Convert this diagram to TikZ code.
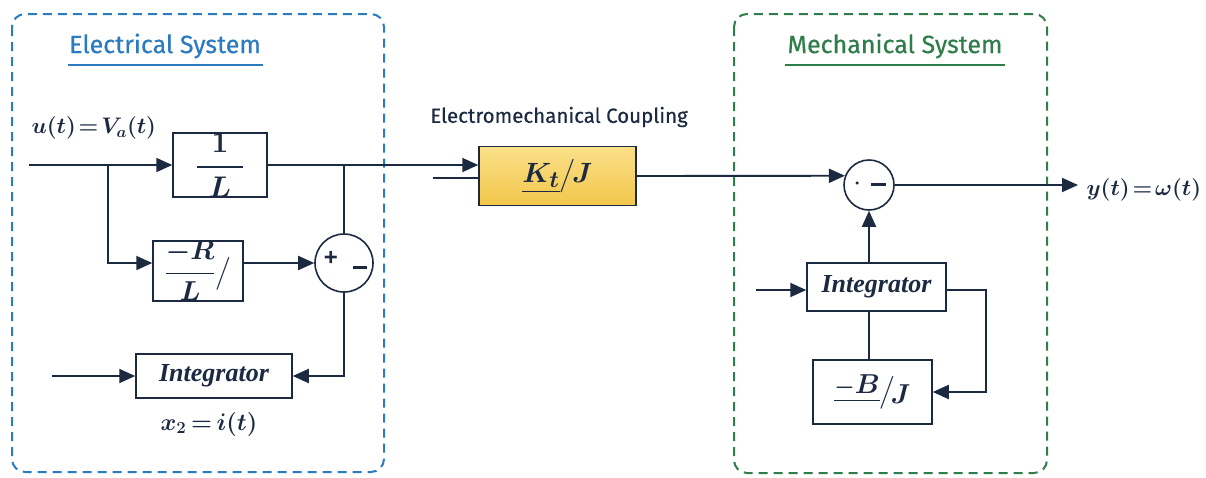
\RequirePackage{fix-cm}
\documentclass[tikz,border=0pt]{standalone}
\usepackage{amsmath}
\usepackage{graphicx}
\usepackage{fontspec}
\usetikzlibrary{arrows.meta,calc}
\newfontfamily\titlefont{Fira Sans}[FakeBold=0.5]
\newfontfamily\signfont{Liberation Sans}
\newfontfamily\intfont{Liberation Serif}
\definecolor{navy}{HTML}{1B2A41}
\definecolor{eblue}{HTML}{2B7BC0}
\definecolor{mgreen}{HTML}{2E7D4B}
\definecolor{ytop}{HTML}{FBE08A}
\definecolor{ybot}{HTML}{F2C64A}
\tikzset{
  conn/.style={draw=navy, line width=1.9pt},
  arr/.style={conn, -{Triangle[length=16pt,width=14pt]}},
  blk/.style={draw=navy, line width=1.5pt, fill=white, inner sep=0pt, text=navy},
  sumnode/.style={draw=navy, line width=1.6pt, circle, fill=white, inner sep=0pt},
  grp/.style={line width=2pt, dash pattern=on 9pt off 6pt, rounded corners=13pt},
  ttl/.style={font=\titlefont\fontsize{25}{29}\selectfont},
  mth/.style={text=navy, font=\fontsize{22.5}{26}\selectfont\boldmath},
  bigmth/.style={font=\fontsize{24.88}{30}\selectfont\boldmath},
  itg/.style={font=\intfont\fontsize{26}{30}\selectfont\bfseries\itshape},
  sgn/.style={text=navy, inner sep=0pt}
}
\begin{document}
\begin{tikzpicture}[x=1pt,y=-1pt]
\useasboundingbox (0,0) rectangle (1206,477);
% group boxes
\draw[grp, eblue] (12,14) rectangle (384,472);
\draw[grp, mgreen] (734,14) rectangle (1047,473);
\node[ttl, text=eblue] (te) at (165,46) {Electrical System};
\draw[eblue, line width=1.5pt] (68,65) -- (263,65);
\node[ttl, text=mgreen] (tm) at (895,46) {Mechanical System};
\draw[mgreen, line width=1.5pt] (785,65) -- (1005,65);
% electrical blocks
\node[blk, bigmth, minimum width=94pt, minimum height=64pt] (oneL) at (220,165) {\scalebox{1.2}{$\displaystyle\frac{\hbox to 38pt{\hss$1$\hss}}{L}$}};
\node[blk, bigmth, minimum width=90pt, minimum height=60pt] (RL) at (198,271) {\scalebox{1.1}{$\displaystyle\frac{-R}{L}\big/$}};
\node[sumnode, minimum size=58pt] (sumE) at (344,263) {};
\node[sgn, font=\signfont\bfseries\fontsize{24}{24}\selectfont] (pl) at (331,258) {+};
\node[sgn] (mi) at (360,267) {\rule{14pt}{3pt}};
\node[blk, itg, minimum width=156pt, minimum height=44pt] (intE) at (214,376) {Integrator};
\node[mth, font=\fontsize{24}{28}\selectfont\boldmath] (xlab) at (209,424) {$x_2 \mkern-2mu = \mkern-2mu i(t)$};
\node[mth, anchor=west] (ulab) at (28,128) {$u(t)\mkern-3mu=\mkern-3mu V_a(t)$};
% coupling
\node[text=navy, font=\titlefont\fontsize{20.5}{25}\selectfont] (cpl) at (559,117) {Electromechanical Coupling};
\node[draw=navy, line width=1.5pt, top color=ytop, bottom color=ybot, inner sep=0pt, minimum width=157pt, minimum height=59pt, text=navy, bigmth] (KJ) at (557.5,176) {\scalebox{1.12}{$\underline{K_t}\big/\mkern-2mu J$}};
% mechanical
\node[sumnode, minimum size=50pt] (sumM) at (869,185) {};
\node[sgn, circle, fill=navy, minimum size=3.5pt] (dt) at (857,183) {};
\node[sgn] (mi2) at (878,184) {\rule{15pt}{3pt}};
\node[blk, itg, minimum width=139pt, minimum height=48pt] (intM) at (876.5,287) {Integrator};
\node[blk, bigmth, minimum width=119pt, minimum height=64pt] (BJ) at (872.5,392) {\scalebox{1.1}{\raisebox{5pt}{$\underline{{\scriptstyle -}B}$}$\big/\mkern-3mu\lower4pt\hbox{$J$}$}};
\node[mth, anchor=west] (ylab) at (1083,190) {$y(t)\mkern-3mu=\mkern-3mu\omega(t)$};
% coordinates
\coordinate (in) at (29,165);
\coordinate (br) at (108,165);
\coordinate (br2) at (344,165);
\coordinate (inE) at (52,376);
\coordinate (cs) at (433,178);
\coordinate (yout) at (1078,185);
\coordinate (inM) at (756,290);
\coordinate (fb) at (986,290);
% connectors electrical
\draw[arr] (in) -- (oneL.west);
\draw[arr] (br) |- ([yshift=8pt]RL.west);
\draw[arr] ([yshift=8pt]RL.east) -- (sumE.west);
\draw[conn] (br2) -- (sumE.north);
\draw[arr] (sumE.south) |- (intE.east);
\draw[arr] (inE) -- (intE.west);
\draw[arr] (oneL.east) -- ([yshift=11pt]KJ.west);
\draw[conn] (cs) -- (cs -| KJ.west);
% connectors mechanical
\draw[arr] (KJ.east) -- (sumM.159);
\draw[arr] (sumM.east) -- (yout);
\draw[arr] (intM.north -| sumM.south) -- (sumM.south);
\draw[arr] (inM) -- (inM -| intM.west);
\draw[arr] (inM -| intM.east) -- (fb) |- (BJ.east);
\draw[conn] (intM.south -| sumM.south) -- (BJ.north -| sumM.south);
\end{tikzpicture}
\end{document}
